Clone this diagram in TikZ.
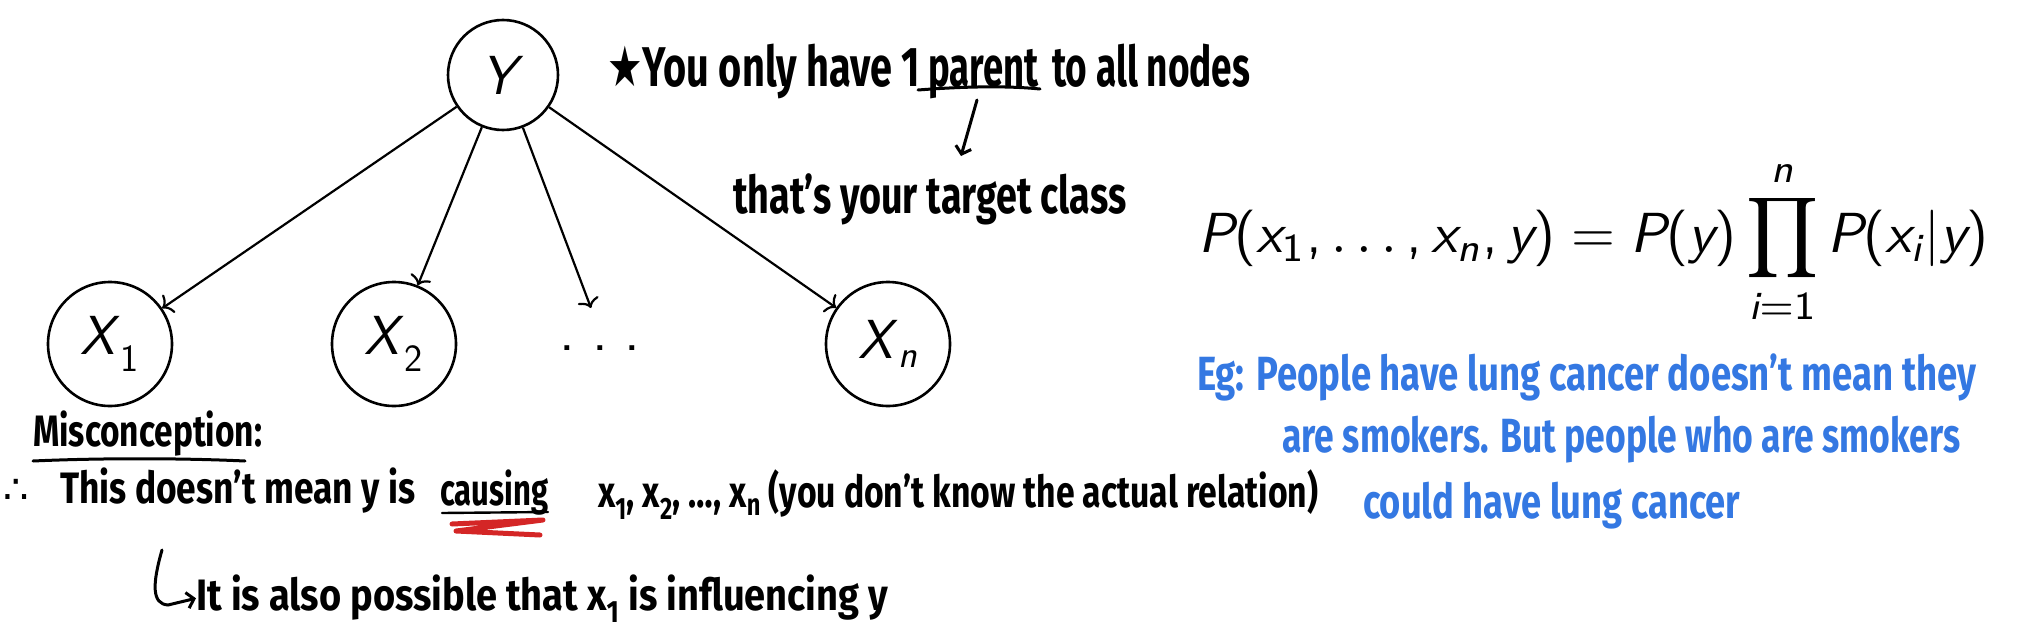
\documentclass[tikz,border=0pt]{standalone}
\usepackage{fontspec}
\usepackage{amsmath}
\usepackage{graphicx}
\usetikzlibrary{arrows.meta}
\newfontfamily\hand{Fira Sans}
\newfontfamily\symf{DejaVu Sans}
\definecolor{inkblue}{RGB}{52,120,226}
\definecolor{inkred}{RGB}{212,38,38}
\newcommand\si[1]{\textsf{\itshape #1}}
\newcommand\su[1]{\textsf{#1}}
\newcommand\fitw[2]{\resizebox{#1}{\height}{#2}}
\begin{document}
\begin{tikzpicture}[x=1pt,y=-1pt,
  var/.style={circle, draw, line width=2.6pt, inner sep=0pt, font=\fontsize{55}{66}\selectfont},
  edge/.style={line width=2.2pt, -{To[length=9pt,width=22pt]}},
  hw/.style={font=\hand\bfseries, inner sep=0pt, anchor=base west},
  hwbig/.style={hw, font=\hand\bfseries\fontsize{56}{64}\selectfont},
  hwtgt/.style={hw, font=\hand\bfseries\fontsize{52}{60}\selectfont},
  hwmid/.style={hw, font=\hand\bfseries\fontsize{44}{52}\selectfont},
  hwblue/.style={hw, text=inkblue, font=\hand\bfseries\fontsize{48}{56}\selectfont},
  hwline/.style={line width=3pt, line cap=round},
  hwarrow/.style={line width=3pt, line cap=round, -{Straight Barb[length=7pt,width=16pt]}}
]
\useasboundingbox (0,0) rectangle (2018,634);

% graph
\node[var, minimum size=110pt] (Y) at (503,75) {\si{Y}};
\node[var, minimum size=124pt] (X1) at (110,344) {\si{X}$_{\su{1}}$};
\node[var, minimum size=124pt] (X2) at (394,344) {\si{X}$_{\su{2}}$};
\node[var, minimum size=124pt] (Xn) at (888,344) {\si{X}$_{\si{n}}$};
\node[inner sep=0pt, anchor=base, font=\fontsize{60}{66}\selectfont] (dots) at (600,350) {\su{.\hspace{17pt}.\hspace{17pt}.}};
\coordinate (dtip) at (591,308);
\draw[edge] (Y) -- (X1);
\draw[edge] (Y) -- (X2);
\draw[edge] (Y) -- (dtip);
\draw[edge] (Y) -- (Xn);

% annotation top
\node[hwbig] (n1) at (607,86) {\fitw{313pt}{{\symf ★}You only have 1}};
\node[hwbig] (n2) at (928,86) {\fitw{110pt}{parent}};
\node[hwbig] (n3) at (1052,86) {\fitw{198pt}{to all nodes}};
\draw[hwline] (918,90) .. controls (970,86) and (1010,86) .. (1040,89);
\node[hwtgt] (tgt) at (733,213) {\fitw{393pt}{that’s your target class}};
\coordinate (a1s) at (977,100);
\coordinate (a1e) at (961,156);
\draw[hwarrow] (a1s) -- (a1e);

% formula
\node[anchor=west, inner sep=0pt] (formula) at (1198,242) {\resizebox{790pt}{!}{$\displaystyle \si{P}\su{(}\si{x}_{\su{1}}\mathpunct{\su{,}}\ldots\mathpunct{\su{,}}\si{x}_{\si{n}}\mathpunct{\su{,}}\si{y}\su{)} = \si{P}\su{(}\si{y}\su{)}\prod_{\si{i}=\su{1}}^{\si{n}}\si{P}\su{(}\si{x}_{\si{i}}|\si{y}\su{)}$}};

% blue example
\node[hwblue] (b1) at (1197,390) {\fitw{779pt}{Eg: People have lung cancer doesn’t mean they}};
\node[hwblue] (b2) at (1282,452) {\fitw{678pt}{are smokers. But people who are smokers}};
\node[hwblue] (b3) at (1363,518) {\fitw{377pt}{could have lung cancer}};

% misconception
\node[hwmid] (mis) at (33,446) {\fitw{229pt}{Misconception:}};
\draw[hwline] (33,461) .. controls (100,458) and (180,458) .. (245,461);
\node[hw, font=\symf\fontsize{40}{44}\selectfont] (there) at (3,503) {∴};
\node[hwmid] (l1a) at (60,503) {\fitw{355pt}{This doesn’t mean y is}};
\node[hwmid] (l1b) at (440,505) {\fitw{108pt}{causing}};
\draw[line width=2.4pt, line cap=round] (442,513) -- (548,512);
\draw[inkred, line width=5pt, line cap=round, line join=round] (452,524) -- (543,520) -- (456,531) -- (540,535);
\node[hwmid] (l1c) at (598,507) {\fitw{720pt}{x\textsubscript{1}, x\textsubscript{2}, …, x\textsubscript{n} (you don’t know the actual relation)}};
\node[hwmid] (l2) at (196,610) {\fitw{692pt}{It is also possible that x\textsubscript{1} is influencing y}};
\coordinate (hk) at (162,550);
\draw[hwarrow] (hk) .. controls (152,585) and (152,604) .. (168,605) -- (l2.west);
\end{tikzpicture}
\end{document}
